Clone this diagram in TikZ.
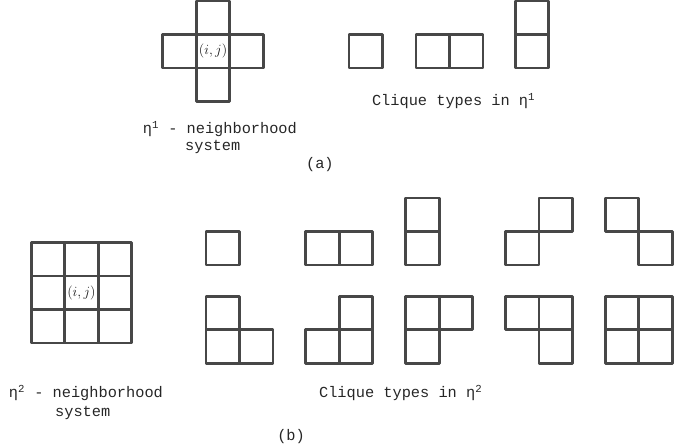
\documentclass[tikz,border=0pt]{standalone}
\usepackage{fontspec}
\setmonofont{Liberation Mono}

\begin{document}
\begin{tikzpicture}[
    cell/.style = {line width = 2.4pt, draw = black!72, line join = round},
    txt/.style = {font = \ttfamily\fontsize{13}{15}\selectfont, text = black!85, inner sep = 0pt},
    ij/.style = {font = \fontsize{12}{14}\selectfont, text = black!90}]
    \useasboundingbox (0,0) rectangle (20.42,13.37);

    % (a) first order neighborhood
    \begin{scope}[shift = {(4.86,10.34)}]
        \foreach \x/\y in {1/0, 0/1, 1/1, 2/1, 1/2}
            \draw[cell] (\x,\y) rectangle ++(1,1);
        \node[ij] (ija) at (1.5,1.5) {$(i,j)$};
    \end{scope}
    \begin{scope}[shift = {(10.42,11.34)}]
        \draw[cell] (0,0) rectangle (1,1);
    \end{scope}
    \begin{scope}[shift = {(12.42,11.34)}]
        \foreach \x/\y in {0/0, 1/0}
            \draw[cell] (\x,\y) rectangle ++(1,1);
    \end{scope}
    \begin{scope}[shift = {(15.38,11.34)}]
        \foreach \x/\y in {0/0, 0/1}
            \draw[cell] (\x,\y) rectangle ++(1,1);
    \end{scope}

    \node[txt, anchor = base east] (nba) at (8.87,9.37) {η\textsuperscript{1} - neighborhood};
    \node[txt, anchor = base west] (sya) at (5.52,8.87) {system};
    \node[txt, anchor = base west] (cla) at (11.10,10.21) {Clique types in η\textsuperscript{1}};
    \node[txt, anchor = base] (capa) at (9.55,8.33) {(a)};

    % (b) second order neighborhood
    \begin{scope}[shift = {(0.93,3.13)}]
        \foreach \x in {0,1,2}
            \foreach \y in {0,1,2}
                \draw[cell] (\x,\y) rectangle ++(1,1);
        \node[ij] (ijb) at (1.5,1.5) {$(i,j)$};
    \end{scope}

    % top row of cliques
    \begin{scope}[shift = {(6.15,5.46)}]
        \draw[cell] (0,0) rectangle (1,1);
    \end{scope}
    \begin{scope}[shift = {(9.13,5.46)}]
        \foreach \x/\y in {0/0, 1/0}
            \draw[cell] (\x,\y) rectangle ++(1,1);
    \end{scope}
    \begin{scope}[shift = {(12.11,5.46)}]
        \foreach \x/\y in {0/0, 0/1}
            \draw[cell] (\x,\y) rectangle ++(1,1);
    \end{scope}
    \begin{scope}[shift = {(15.09,5.46)}]
        \foreach \x/\y in {0/0, 1/1}
            \draw[cell] (\x,\y) rectangle ++(1,1);
    \end{scope}
    \begin{scope}[shift = {(18.07,5.46)}]
        \foreach \x/\y in {0/1, 1/0}
            \draw[cell] (\x,\y) rectangle ++(1,1);
    \end{scope}

    % bottom row of cliques
    \begin{scope}[shift = {(6.15,2.53)}]
        \foreach \x/\y in {0/0, 1/0, 0/1}
            \draw[cell] (\x,\y) rectangle ++(1,1);
    \end{scope}
    \begin{scope}[shift = {(9.13,2.53)}]
        \foreach \x/\y in {0/0, 1/0, 1/1}
            \draw[cell] (\x,\y) rectangle ++(1,1);
    \end{scope}
    \begin{scope}[shift = {(12.11,2.53)}]
        \foreach \x/\y in {0/0, 0/1, 1/1}
            \draw[cell] (\x,\y) rectangle ++(1,1);
    \end{scope}
    \begin{scope}[shift = {(15.09,2.53)}]
        \foreach \x/\y in {1/0, 0/1, 1/1}
            \draw[cell] (\x,\y) rectangle ++(1,1);
    \end{scope}
    \begin{scope}[shift = {(18.07,2.53)}]
        \foreach \x/\y in {0/0, 1/0, 0/1, 1/1}
            \draw[cell] (\x,\y) rectangle ++(1,1);
    \end{scope}

    \node[txt, anchor = base east] (nbb) at (4.87,1.49) {η\textsuperscript{2} - neighborhood};
    \node[txt, anchor = base west] (syb) at (1.64,0.93) {system};
    \node[txt, anchor = base west] (clb) at (9.52,1.49) {Clique types in η\textsuperscript{2}};
    \node[txt, anchor = base] (capb) at (8.69,0.21) {(b)};
\end{tikzpicture}
\end{document}
